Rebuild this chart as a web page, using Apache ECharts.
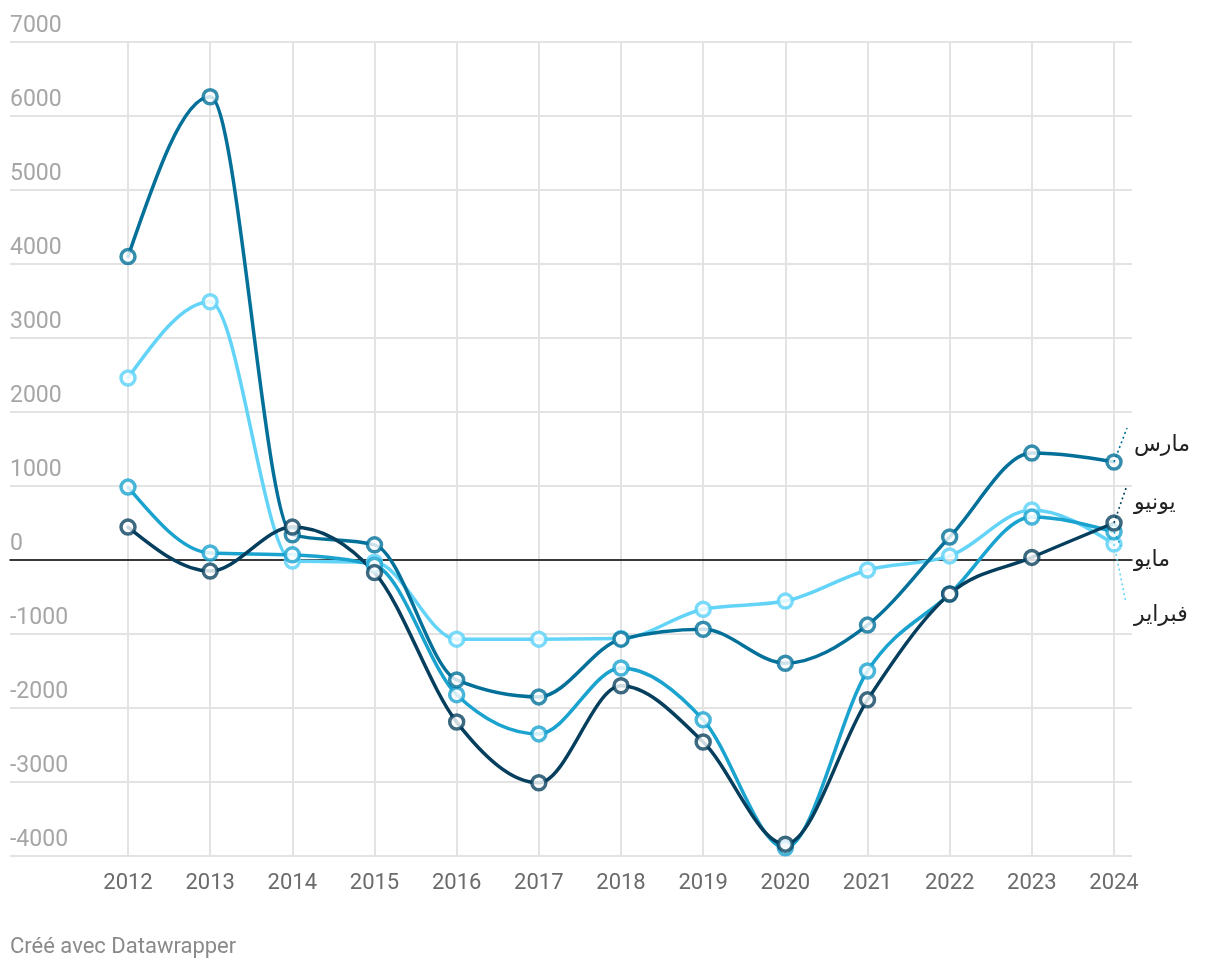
<!DOCTYPE html>
<html>
<head>
<meta charset="utf-8">
<script src="https://cdn.jsdelivr.net/npm/echarts@6/dist/echarts.min.js"></script>
<style>
html,body{margin:0;padding:0;background:#fff;}
#chart{width:1220px;height:972px;}
</style>
</head>
<body>
<div id="chart"></div>
<script>
// ---- data ----
const years = ['2012','2013','2014','2015','2016','2017','2018','2019','2020','2021','2022','2023','2024'];
const febValues   = [2460, 3490, -15, -30, -1070, -1070, -1060, -665, -555, -135, 55, 675, 215];
const mayValues   = [985, 95, 70, -70, -1820, -2350, -1460, -2160, -3890, -1500, -460, 580, 380];
const marValues   = [4100, 6260, 340, 205, -1620, -1850, -1070, -935, -1395, -880, 310, 1445, 1325];
const junValues   = [445, -150, 445, -170, -2190, -3010, -1700, -2460, -3840, -1890, -460, 35, 500];
const seriesNames = ['فبراير', 'مايو', 'مارس', 'يونيو'];
const yMin = -4000, yMax = 7000, yStep = 1000;
const footer = 'Créé avec Datawrapper';

// ---- styles ----
const colors = ['#63d4f8', '#1aa3cf', '#03709a', '#063f5e'];
const markerBorders = ['rgba(99,212,248,0.85)', 'rgba(26,163,207,0.8)', 'rgba(3,112,154,0.8)', 'rgba(6,63,94,0.78)'];
const labelOffsets = [[12, 71], [12, 28], [12, -17], [12, -20]];
const leaderEnds = [{x:1126, y:603}, {x:1121, y:546}, {x:1127, y:428}, {x:1126, y:488}];
const valuesList = [febValues, mayValues, marValues, junValues];

// monotone-x cubic path (as d3.curveMonotoneX) built from pixel points given by the axes
function sign(v){ return v < 0 ? -1 : 1; }
function slope3(x0,y0,x1,y1,x2,y2){
  const h0 = x1 - x0, h1 = x2 - x1;
  const s0 = (y1 - y0) / (h0 || (h1 < 0 && -0));
  const s1 = (y2 - y1) / (h1 || (h0 < 0 && -0));
  const p = (s0 * h1 + s1 * h0) / (h0 + h1);
  return (sign(s0) + sign(s1)) * Math.min(Math.abs(s0), Math.abs(s1), 0.5 * Math.abs(p)) || 0;
}
function slope2(x0,y0,x1,y1,t){
  const h = x1 - x0;
  return h ? (3 * (y1 - y0) / h - t) / 2 : t;
}
function monotonePath(pts){
  const n = pts.length;
  const t = new Array(n);
  for (let i = 1; i < n - 1; i++) {
    t[i] = slope3(pts[i-1][0], pts[i-1][1], pts[i][0], pts[i][1], pts[i+1][0], pts[i+1][1]);
  }
  t[0] = slope2(pts[0][0], pts[0][1], pts[1][0], pts[1][1], t[1]);
  t[n-1] = slope2(pts[n-1][0], pts[n-1][1], pts[n-2][0], pts[n-2][1], t[n-2]);
  let d = 'M' + pts[0][0] + ' ' + pts[0][1];
  for (let i = 0; i < n - 1; i++) {
    const x0 = pts[i][0], y0 = pts[i][1], x1 = pts[i+1][0], y1 = pts[i+1][1];
    const dx = (x1 - x0) / 3;
    d += ' C' + (x0 + dx) + ' ' + (y0 + dx * t[i]) + ' ' + (x1 - dx) + ' ' + (y1 - dx * t[i+1]) + ' ' + x1 + ' ' + y1;
  }
  return d;
}

const chart = echarts.init(document.getElementById('chart'), null, {renderer:'canvas'});

const curveSeries = valuesList.map((vals, i) => ({
  type: 'custom',
  xAxisIndex: 1,
  yAxisIndex: 1,
  data: vals.map((v, k) => [k, v]),
  silent: true,
  animation: false,
  renderItem: function (params, api) {
    if (params.dataIndex !== 0) return null;
    const pts = vals.map((v, k) => api.coord([k, v]));
    return {
      type: 'path',
      shape: {pathData: monotonePath(pts)},
      style: {stroke: colors[i], lineWidth: 3.5, fill: null, lineJoin: 'round', lineCap: 'round'}
    };
  }
}));

const markerSeries = valuesList.map((vals, i) => ({
  name: seriesNames[i],
  type: 'line',
  xAxisIndex: 1,
  yAxisIndex: 1,
  data: vals,
  symbol: 'circle',
  symbolSize: 14,
  showAllSymbol: true,
  lineStyle: {opacity: 0, width: 0},
  itemStyle: {color: 'rgba(255,255,255,0.8)', borderColor: markerBorders[i], borderWidth: 3.5},
  emphasis: {disabled: true},
  endLabel: {
    show: true,
    formatter: seriesNames[i],
    color: '#222',
    fontSize: 22,
    fontFamily: 'DejaVu Sans, Noto Sans, sans-serif',
    align: 'left',
    offset: labelOffsets[i]
  },
  markLine: {
    silent: true,
    symbol: ['none', 'none'],
    label: {show: false},
    lineStyle: {color: colors[i], type: [2, 3], width: 1.6, opacity: 1},
    data: [[{coord: [years[years.length - 1], vals[vals.length - 1]]}, leaderEnds[i]]],
    animation: false
  },
  animation: false
}));

const option = {
  backgroundColor: '#fff',
  animation: false,
  grid: [
    {left: 10, right: 88, top: 42, bottom: 116},
    {left: 128, right: 106, top: 42, bottom: 116}
  ],
  xAxis: [
    {
      gridIndex: 0, type: 'value', min: 0, max: 1,
      axisLine: {show: true, onZero: true, lineStyle: {color: '#000', width: 1.5}},
      axisTick: {show: false}, axisLabel: {show: false}, splitLine: {show: false}
    },
    {
      gridIndex: 1, type: 'category', data: years, boundaryGap: false,
      axisLine: {show: false}, axisTick: {show: false},
      axisLabel: {color: '#6b6b6b', fontSize: 22, fontFamily: 'Roboto, sans-serif', margin: 16, interval: 0},
      splitLine: {show: true, lineStyle: {color: '#e3e3e3', width: 2}}
    }
  ],
  yAxis: [
    {
      gridIndex: 0, type: 'value', min: yMin, max: yMax, interval: yStep,
      axisLine: {show: false}, axisTick: {show: false},
      axisLabel: {inside: true, color: '#a6a6a6', fontSize: 23, fontFamily: 'Roboto, sans-serif',
                  verticalAlign: 'bottom', align: 'left', margin: 0, padding: [0, 0, 4, 0],
                  formatter: v => String(v)},
      splitLine: {show: true, lineStyle: {color: '#e3e3e3', width: 2}}
    },
    {
      gridIndex: 1, type: 'value', min: yMin, max: yMax, interval: yStep,
      axisLine: {show: false}, axisTick: {show: false}, axisLabel: {show: false}, splitLine: {show: false}
    }
  ],
  graphic: [{
    type: 'text', left: 10, top: 936,
    style: {text: footer, fill: '#8a8a8a', fontSize: 22, fontFamily: 'Roboto, sans-serif'}
  }],
  series: curveSeries.concat(markerSeries)
};
chart.setOption(option);
</script>
</body>
</html>
